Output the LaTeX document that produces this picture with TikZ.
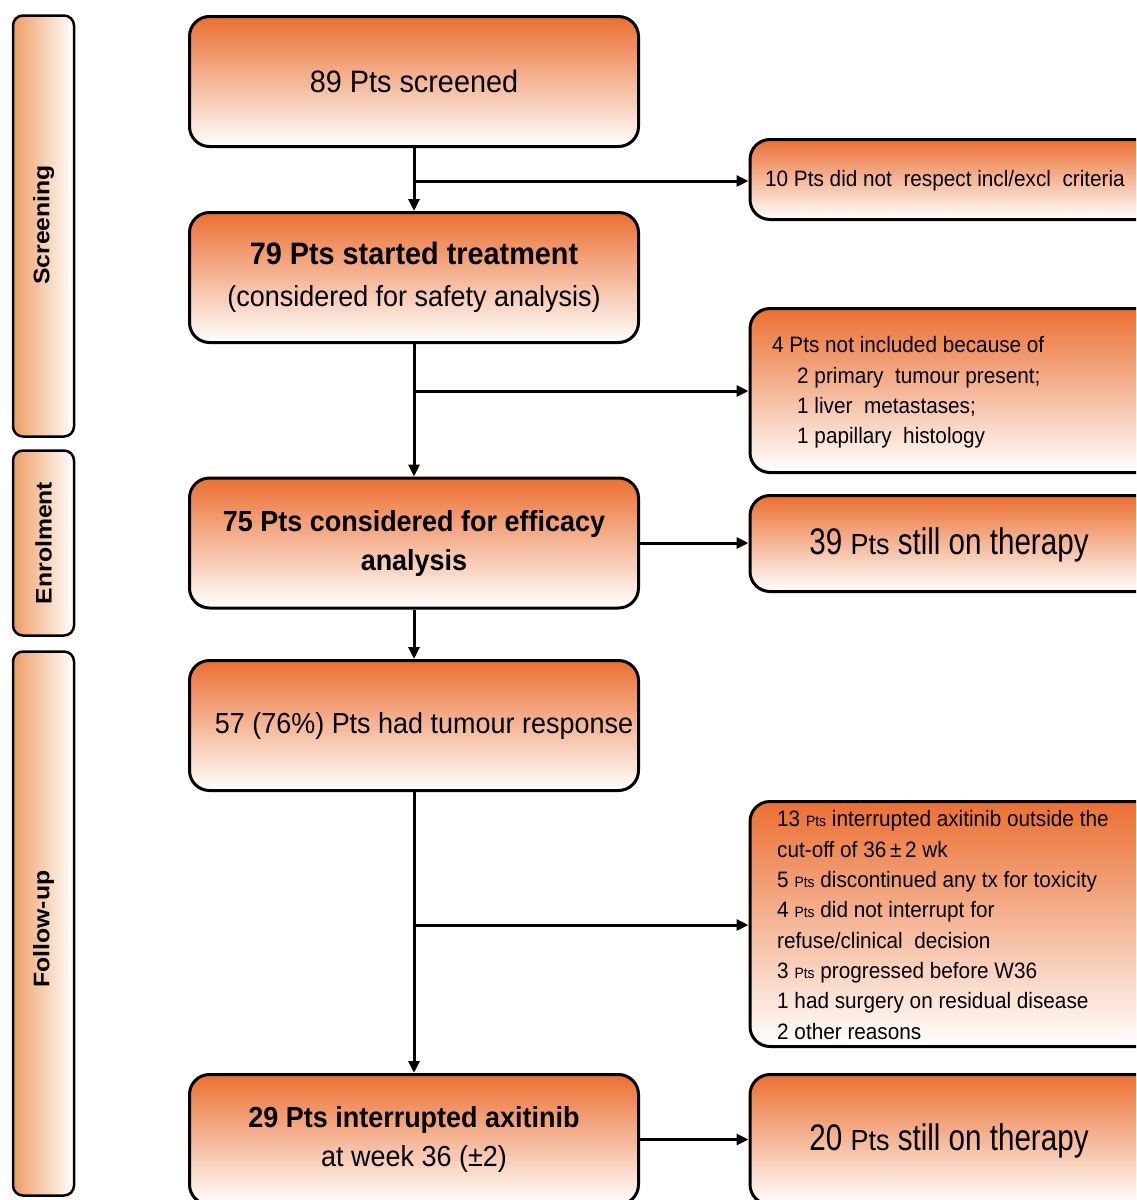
\documentclass[tikz,border=0pt]{standalone}
\usepackage{fontspec}
\setmainfont{Liberation Sans}[FakeStretch=0.93]
\newfontfamily\narrowf{Liberation Sans}[FakeStretch=0.8]
\newfontfamily\sidef{Liberation Sans}[FakeStretch=1.1]
\usetikzlibrary{arrows.meta}
\definecolor{boxor}{RGB}{235,111,49}
\definecolor{sideor}{RGB}{238,158,100}
\tikzset{
 mainbox/.style={draw=black, line width=3pt, rounded corners=20pt, top color=boxor, bottom color=white,
   minimum width=449pt, minimum height=130pt, inner sep=0pt, align=center, font=\fontsize{29}{39}\selectfont},
 rbox/.style={draw=black, line width=3pt, rounded corners=20pt, top color=boxor, bottom color=white,
   inner sep=0pt, minimum width=420pt},
 sidebox/.style={draw=black, line width=2.5pt, rounded corners=10pt, left color=sideor, right color=white,
   minimum width=61pt, inner sep=0pt},
 sidetext/.style={rotate=90, inner sep=0pt, font=\sidef\bfseries\fontsize{22.5}{22.5}\selectfont},
 rtext/.style={align=left, anchor=west, inner sep=0pt, font=\fontsize{22.3}{30.3}\selectfont},
 ctext/.style={inner sep=0pt, font=\fontsize{22.3}{30.3}\selectfont},
 arr/.style={line width=3pt, -{Triangle[length=12pt,width=11pt]}},
}
\newcommand{\smpts}{{\rmfamily\fontsize{15}{15}\selectfont Pts}}
\newcommand{\bigpts}{{\rmfamily\fontsize{29}{29}\selectfont Pts}}
\begin{document}
\begin{tikzpicture}[x=1pt,y=-1pt]
\path[use as bounding box] (0,0) rectangle (1136,1200);
\clip (0,0) rectangle (1136,1200);

% side phase boxes
\node[sidebox, minimum height=421pt] (sb1) at (43.5,226) {};
\node[sidebox, minimum height=185pt] (sb2) at (43.5,543) {};
\node[sidebox, minimum height=544pt] (sb3) at (43.5,923.5) {};
\node[sidetext] (st1) at (43.5,225) {Screening};
\node[sidetext] (st2) at (43.5,543) {Enrolment};
\node[sidetext] (st3) at (43.5,929) {Follow-up};

% main column
\node[mainbox] (s1) at (414,81.5) {\fontsize{31}{40}\selectfont 89 Pts screened};
\node[mainbox, font=\fontsize{29}{42}\selectfont] (s2) at (414,277.5)
  {{\bfseries\fontsize{31}{42}\selectfont 79 Pts started treatment}\\(considered for safety analysis)};
\node[mainbox] (s3) at (414,543) {\bfseries 75 Pts considered for efficacy\\\bfseries analysis};
\node[mainbox] (s4) at (414,725.5) {\hspace*{20pt}57 (76\%) Pts had tumour response};
\node[mainbox] (s5) at (414,1139.5) {{\bfseries 29 Pts interrupted axitinib}\\at week 36 (±2)};

% right column
\node[rbox, minimum height=80pt] (r1) at (960,179.5) {};
\node[rbox, minimum height=164pt] (r2) at (960,390.5) {};
\node[rbox, minimum height=96pt] (r3) at (960,543.5) {};
\node[rbox, minimum height=245pt] (r4) at (960,924) {};
\node[rbox, minimum height=130pt] (r5) at (960,1139.5) {};

\node[ctext] (t1) at (945,181) {10 Pts did not\ \ respect incl/excl\ \ criteria};
\node[rtext] (t2) at (772,392.5) {4 Pts not included because of\\
\hspace*{25pt}2 primary\ \ tumour present;\\
\hspace*{25pt}1 liver\ \ metastases;\\
\hspace*{25pt}1 papillary\ \ histology};
\node[inner sep=0pt, font=\narrowf\fontsize{37}{37}\selectfont] (t3) at (949,545) {39 \bigpts{} still on therapy};
\node[rtext] (t4) at (777,925) {13 \smpts{} interrupted axitinib outside the\\
cut-off of 36\,±\,2 wk\\
5 \smpts{} discontinued any tx for toxicity\\
4 \smpts{} did not interrupt for\\
refuse/clinical\ \ decision\\
3 \smpts{} progressed before W36\\
1 had surgery on residual disease\\
2 other reasons};
\node[inner sep=0pt, font=\narrowf\fontsize{37}{37}\selectfont] (t5) at (949,1141) {20 \bigpts{} still on therapy};

% connectors
\coordinate (b1) at (414,181);
\coordinate (b2) at (414,391);
\coordinate (b3) at (414,925);
\draw[arr] (s1.south) -- (s2.north);
\draw[arr] (b1) -- (b1 -| r1.west);
\draw[arr] (s2.south) -- (s3.north);
\draw[arr] (b2) -- (b2 -| r2.west);
\draw[arr] (s3.east) -- (r3.west |- s3.east);
\draw[arr] (s3.south) -- (s4.north);
\draw[arr] (s4.south) -- (s5.north);
\draw[arr] (b3) -- (b3 -| r4.west);
\draw[arr] (s5.east) -- (r5.west |- s5.east);
\end{tikzpicture}
\end{document}
